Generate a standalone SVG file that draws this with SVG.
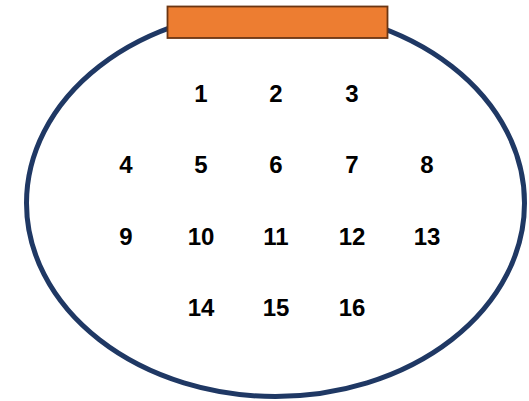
<svg xmlns="http://www.w3.org/2000/svg" width="529" height="401" viewBox="0 0 529 401">
<style>
.n{font-family:"Liberation Sans",Arial,sans-serif;font-weight:bold;font-size:24px;fill:#000;text-anchor:middle}
</style>
<rect width="529" height="401" fill="#fff"/>
<g id="body">
<ellipse cx="275.5" cy="203" rx="249" ry="193.5" fill="none" stroke="#1F3864" stroke-width="5"/>
</g>
<g id="tab">
<rect x="167.5" y="6.5" width="220" height="31.5" fill="#ED7D31" stroke="#6B3512" stroke-width="1.8"/>
</g>
<g id="labels">
<text class="n" x="201" y="102">1</text>
<text class="n" x="276" y="102">2</text>
<text class="n" x="352" y="102">3</text>
<text class="n" x="126" y="173">4</text>
<text class="n" x="201" y="173">5</text>
<text class="n" x="276" y="173">6</text>
<text class="n" x="352" y="173">7</text>
<text class="n" x="427" y="173">8</text>
<text class="n" x="126" y="245">9</text>
<text class="n" x="201" y="245">10</text>
<text class="n" x="276" y="245">11</text>
<text class="n" x="352" y="245">12</text>
<text class="n" x="427" y="245">13</text>
<text class="n" x="201" y="316">14</text>
<text class="n" x="276" y="316">15</text>
<text class="n" x="352" y="316">16</text>
</g>
</svg>
